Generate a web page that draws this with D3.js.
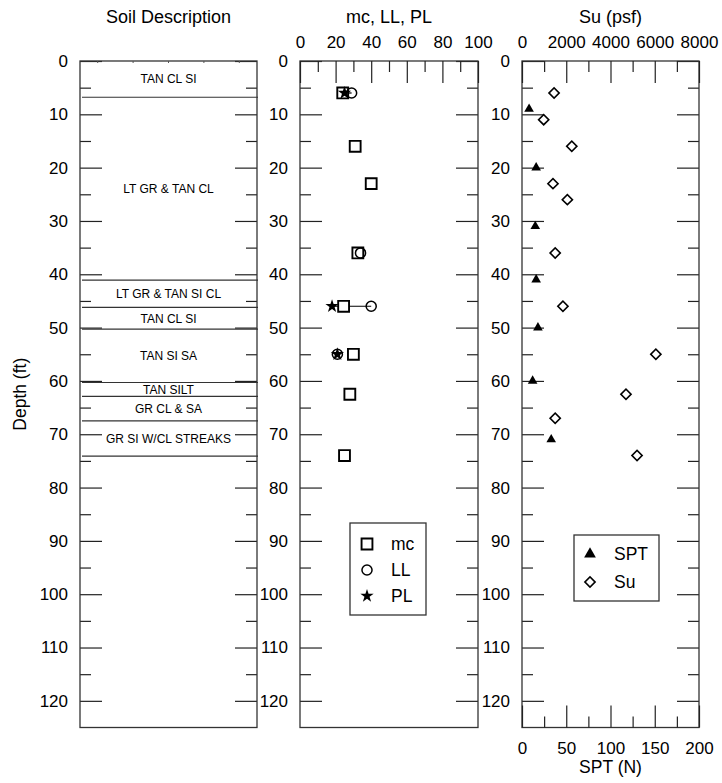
<!DOCTYPE html>
<html>
<head>
<meta charset="utf-8">
<script src="https://cdn.jsdelivr.net/npm/d3@7"></script>
<style>
  body { margin: 0; background: #fff; }
  text { font-family: "Liberation Sans", Arial, sans-serif; fill: #000; }
</style>
</head>
<body>
<div id="chart"></div>
<script>
// soil layers (ft)
var layerBounds = [0, 6.8, 41.1, 46.2, 50.3, 60.3, 62.9, 67.5, 74.1];
var layerNames = ["TAN CL SI", "LT GR & TAN CL", "LT GR & TAN SI CL", "TAN CL SI",
                  "TAN SI SA", "TAN SILT", "GR CL & SA", "GR SI W/CL STREAKS"];

// moisture content / Atterberg limits
var mcDepth = [6, 16, 23, 36, 46, 55, 62.5, 74];
var mcValue = [24, 31, 40, 32.5, 24.5, 30, 28, 25];
var llDepth = [6, 36, 46, 55];
var llValue = [29, 34, 40, 21];
var plDepth = [6, 46, 55];
var plValue = [25, 18, 21];

// undrained shear strength and SPT
var suDepth = [6, 11, 16, 23, 26, 36, 46, 55, 62.5, 67, 74];
var suValue = [1450, 980, 2250, 1400, 2050, 1500, 1850, 6050, 4700, 1500, 5200];
var sptDepth = [9, 20, 31, 41, 50, 60, 71];
var sptValue = [8, 16, 15, 16, 18, 12, 33];

// tick labels
var depthTicks = [0, 10, 20, 30, 40, 50, 60, 70, 80, 90, 100, 110, 120];
var mcTicks = [0, 20, 40, 60, 80, 100];
var suTicks = [0, 2000, 4000, 6000, 8000];
var sptTicks = [0, 50, 100, 150, 200];

var W = 722, H = 783;
var plotTop = 61, plotBottom = 727.5;
var panels = [[80, 257], [300, 478], [522, 699]];

var svg = d3.select("#chart").append("svg")
    .attr("width", W).attr("height", H);
svg.append("rect").attr("width", W).attr("height", H).attr("fill", "#fff");

var y = d3.scaleLinear().domain([0, 125]).range([plotTop, plotBottom]);
var minorDepth = d3.range(5, 125, 10);

function depthAxes(p) {
  var g = svg.append("g");
  var x0 = panels[p][0], x1 = panels[p][1];
  var left = g.append("g").attr("transform", "translate(" + x0 + ",0)")
      .call(d3.axisLeft(y).tickValues(depthTicks).tickSize(-22).tickPadding(12));
  left.select(".domain").remove();
  left.selectAll("text").style("font-size", "17px");
  g.append("g").attr("transform", "translate(" + x0 + ",0)")
      .call(d3.axisLeft(y).tickValues(minorDepth).tickSize(-11).tickFormat(""))
      .select(".domain").remove();
  g.append("g").attr("transform", "translate(" + x1 + ",0)")
      .call(d3.axisRight(y).tickValues(depthTicks).tickSize(-22).tickFormat(""))
      .select(".domain").remove();
  g.append("g").attr("transform", "translate(" + x1 + ",0)")
      .call(d3.axisRight(y).tickValues(minorDepth).tickSize(-11).tickFormat(""))
      .select(".domain").remove();
  g.selectAll(".tick line").attr("stroke", "#222").attr("stroke-width", 1.2);
  g.append("rect")
      .attr("x", x0).attr("y", plotTop)
      .attr("width", x1 - x0).attr("height", plotBottom - plotTop)
      .attr("fill", "none").attr("stroke", "#333").attr("stroke-width", 1.3);
  return g;
}

function title(txt, cx, yy) {
  svg.append("text").attr("x", cx).attr("y", yy)
      .attr("text-anchor", "middle").style("font-size", "18px").text(txt);
}

// ---------- panel 1: soil description ----------
depthAxes(0);
var p1 = panels[0];
title("Soil Description", (p1[0] + p1[1]) / 2, 23);
svg.append("g").selectAll("line").data(d3.range(5)).enter().append("line")
    .attr("x1", function(i) { return p1[0] + (p1[1] - p1[0]) * (0.1 + 0.2 * i); })
    .attr("x2", function(i) { return p1[0] + (p1[1] - p1[0]) * (0.1 + 0.2 * i); })
    .attr("y1", plotTop).attr("y2", plotTop + 2)
    .attr("stroke", "#555");

svg.append("g").selectAll("line").data(layerBounds.slice(1)).enter().append("line")
    .attr("x1", p1[0] + 2).attr("x2", p1[1] + 1)
    .attr("y1", function(d) { return y(d); })
    .attr("y2", function(d) { return y(d); })
    .attr("stroke", "#333").attr("stroke-width", 1.2);

svg.append("g").selectAll("text").data(layerNames).enter().append("text")
    .attr("x", (p1[0] + p1[1]) / 2)
    .attr("y", function(d, i) { return y((layerBounds[i] + layerBounds[i + 1]) / 2); })
    .attr("dy", "0.36em")
    .attr("text-anchor", "middle")
    .style("font-size", "12px")
    .text(function(d) { return d; });

svg.append("text")
    .attr("transform", "translate(26," + ((plotTop + plotBottom) / 2) + ") rotate(-90)")
    .attr("text-anchor", "middle").style("font-size", "17.5px")
    .text("Depth (ft)");

// ---------- panel 2: mc, LL, PL ----------
depthAxes(1);
var p2 = panels[1];
var xmc = d3.scaleLinear().domain([0, 100]).range(p2);
title("mc, LL, PL", (p2[0] + p2[1]) / 2, 23);
var topAx = svg.append("g").attr("transform", "translate(0," + plotTop + ")");
topAx.append("g").call(d3.axisTop(xmc).tickValues(mcTicks).tickSize(-22).tickPadding(13))
    .selectAll("text").style("font-size", "17px");
topAx.append("g").call(d3.axisTop(xmc).tickValues(d3.range(10, 100, 20)).tickSize(-11).tickFormat(""));
topAx.selectAll(".domain").remove();
topAx.selectAll(".tick line").attr("stroke", "#222").attr("stroke-width", 1.2);

var sqSym = d3.symbol().type(d3.symbolSquare).size(118);
var ciSym = d3.symbol().type(d3.symbolCircle).size(80);
var stSym = d3.symbol().type(d3.symbolStar).size(55);

// PL to LL range lines
var rangeLines = plDepth.filter(function(d) { return llDepth.indexOf(d) >= 0; });
svg.append("g").selectAll("line").data(rangeLines).enter().append("line")
    .attr("x1", function(d) { return xmc(plValue[plDepth.indexOf(d)]); })
    .attr("x2", function(d) { return xmc(llValue[llDepth.indexOf(d)]); })
    .attr("y1", function(d) { return y(d); })
    .attr("y2", function(d) { return y(d); })
    .attr("stroke", "#000").attr("stroke-width", 1.2);

svg.append("g").selectAll("path").data(mcDepth).enter().append("path")
    .attr("d", sqSym)
    .attr("transform", function(d, i) { return "translate(" + xmc(mcValue[i]) + "," + y(d) + ")"; })
    .attr("fill", "#fff").attr("stroke", "#000").attr("stroke-width", 1.9);
svg.append("g").selectAll("path").data(llDepth).enter().append("path")
    .attr("d", ciSym)
    .attr("transform", function(d, i) { return "translate(" + xmc(llValue[i]) + "," + y(d) + ")"; })
    .attr("fill", "none").attr("stroke", "#000").attr("stroke-width", 1.5);
svg.append("g").selectAll("path").data(plDepth).enter().append("path")
    .attr("d", stSym)
    .attr("transform", function(d, i) { return "translate(" + xmc(plValue[i]) + "," + y(d) + ")"; })
    .attr("fill", "#000");

var leg2 = svg.append("g").attr("transform", "translate(350,523)");
leg2.append("rect").attr("width", 76).attr("height", 92)
    .attr("fill", "#fff").attr("stroke", "#333").attr("stroke-width", 1.3);
var leg2Items = [["mc", sqSym, "#fff", 1.9], ["LL", ciSym, "#fff", 1.5], ["PL", stSym, "#000", 0]];
leg2Items.forEach(function(it, i) {
  leg2.append("path").attr("d", it[1])
      .attr("transform", "translate(17," + (21 + i * 26) + ")")
      .attr("fill", it[2]).attr("stroke", it[3] ? "#000" : "none").attr("stroke-width", it[3]);
  leg2.append("text").attr("x", 41).attr("y", 21 + i * 26).attr("dy", "0.36em")
      .style("font-size", "17.5px").text(it[0]);
});

// ---------- panel 3: Su and SPT ----------
depthAxes(2);
var p3 = panels[2];
var xsu = d3.scaleLinear().domain([0, 8000]).range(p3);
var xspt = d3.scaleLinear().domain([0, 200]).range(p3);
title("Su (psf)", (p3[0] + p3[1]) / 2, 23);
var suAx = svg.append("g").attr("transform", "translate(0," + plotTop + ")");
suAx.append("g").call(d3.axisTop(xsu).tickValues(suTicks).tickFormat(d3.format("d"))
      .tickSize(-22).tickPadding(13))
    .selectAll("text").style("font-size", "17px");
suAx.append("g").call(d3.axisTop(xsu).tickValues(d3.range(1000, 8000, 2000)).tickSize(-11).tickFormat(""));
suAx.selectAll(".domain").remove();
suAx.selectAll(".tick line").attr("stroke", "#222").attr("stroke-width", 1.2);

var sptAx = svg.append("g").attr("transform", "translate(0," + plotBottom + ")");
sptAx.append("g").call(d3.axisBottom(xspt).tickValues(sptTicks).tickSize(-22).tickPadding(14))
    .selectAll("text").style("font-size", "17px");
sptAx.append("g").call(d3.axisBottom(xspt).tickValues(d3.range(25, 200, 50)).tickSize(-11).tickFormat(""));
sptAx.selectAll(".domain").remove();
sptAx.selectAll(".tick line").attr("stroke", "#222").attr("stroke-width", 1.2);
svg.append("text").attr("x", (p3[0] + p3[1]) / 2).attr("y", 773)
    .attr("text-anchor", "middle").style("font-size", "17.5px").text("SPT (N)");

var triSym = d3.symbol().type(d3.symbolTriangle).size(40);
var diaSym = d3.symbol().type(d3.symbolSquare).size(52);

svg.append("g").selectAll("path").data(sptDepth).enter().append("path")
    .attr("d", triSym)
    .attr("transform", function(d, i) { return "translate(" + xspt(sptValue[i]) + "," + y(d) + ")"; })
    .attr("fill", "#000");
svg.append("g").selectAll("path").data(suDepth).enter().append("path")
    .attr("d", diaSym)
    .attr("transform", function(d, i) { return "translate(" + xsu(suValue[i]) + "," + y(d) + ") rotate(45)"; })
    .attr("fill", "#fff").attr("stroke", "#000").attr("stroke-width", 1.6);

var leg3 = svg.append("g").attr("transform", "translate(574,535)");
leg3.append("rect").attr("width", 85).attr("height", 66)
    .attr("fill", "#fff").attr("stroke", "#333").attr("stroke-width", 1.3);
leg3.append("path").attr("d", d3.symbol().type(d3.symbolTriangle).size(60))
    .attr("transform", "translate(16,19)").attr("fill", "#000");
leg3.append("text").attr("x", 40).attr("y", 19).attr("dy", "0.36em")
    .style("font-size", "17.5px").text("SPT");
leg3.append("path").attr("d", diaSym)
    .attr("transform", "translate(16,47) rotate(45)")
    .attr("fill", "#fff").attr("stroke", "#000").attr("stroke-width", 1.6);
leg3.append("text").attr("x", 40).attr("y", 47).attr("dy", "0.36em")
    .style("font-size", "17.5px").text("Su");
</script>
</body>
</html>
